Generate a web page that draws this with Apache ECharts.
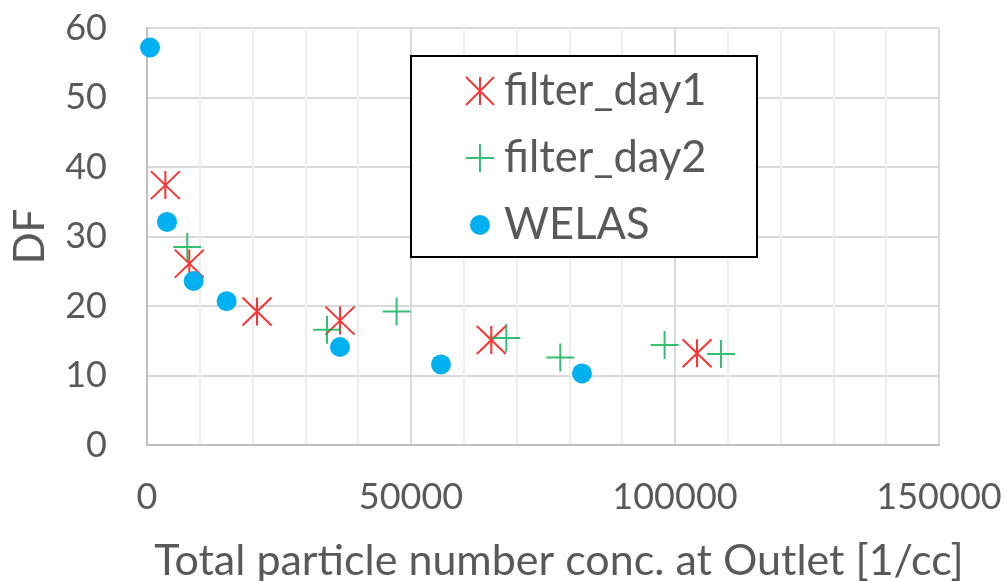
<!DOCTYPE html>
<html>
<head>
<meta charset="utf-8">
<script src="https://cdn.jsdelivr.net/npm/echarts@6/dist/echarts.min.js"></script>
<style>
  html, body { margin: 0; padding: 0; background: #fff; }
  #chart { width: 1006px; height: 581px; }
</style>
</head>
<body>
<div id="chart"></div>
<script>
// Outlet concentration [1/cc] vs decontamination factor
const day1X = [3470, 8010, 20830, 36550, 65210, 104170];
const day1Y = [37.4, 26.1, 19.2, 17.9, 15.1, 13.2];

const day2X = [7630, 34090, 47270, 68050, 78280, 98030, 108710];
const day2Y = [28.5, 16.6, 19.2, 15.4, 12.6, 14.4, 13.1];

const welasX = [570, 3790, 8830, 15080, 36550, 55680, 82380];
const welasY = [57.2, 32.1, 23.6, 20.7, 14.1, 11.6, 10.3];

const xTicks = [0, 50000, 100000, 150000];
const yTicks = [0, 10, 20, 30, 40, 50, 60];

const pairs = (xs, ys) => xs.map((x, i) => [x, ys[i]]);

const FONT = 'Lato';
const TEXT = '#595959';
const RED = '#FF0000';
const GREEN = '#00B050';
const BLUE = '#00B0F0';

const STAR = 'path://M0,0L28,28M28,0L0,28M14,0L14,28';
const PLUS = 'path://M0,14L28,14M14,0L14,28';
const DOT = 'path://M0,0M28,28M24,14A10,10,0,1,1,4,14A10,10,0,1,1,24,14Z';

const chart = echarts.init(document.getElementById('chart'));
chart.setOption({
  animation: false,
  backgroundColor: '#fff',
  textStyle: { fontFamily: FONT, color: TEXT },
  grid: { left: 147, right: 67, top: 28, bottom: 136, containLabel: false, outerBoundsMode: 'none' },
  xAxis: {
    type: 'value',
    min: xTicks[0],
    max: xTicks[xTicks.length - 1],
    interval: xTicks[1] - xTicks[0],
    name: 'Total particle number conc. at Outlet [1/cc]',
    nameLocation: 'middle',
    nameGap: 95,
    nameTextStyle: { fontFamily: FONT, fontSize: 43, color: TEXT, padding: [0, 0, 0, 32] },
    axisLine: { lineStyle: { color: '#BFBFBF', width: 2 } },
    axisTick: { show: false },
    axisLabel: { fontFamily: FONT, fontSize: 36, color: TEXT, margin: 34, formatter: v => String(v) },
    splitLine: { lineStyle: { color: '#D9D9D9', width: 2 } },
    minorTick: { show: false, splitNumber: 5 },
    minorSplitLine: { show: true, lineStyle: { color: '#EEEEEE', width: 2 } }
  },
  yAxis: {
    type: 'value',
    min: yTicks[0],
    max: yTicks[yTicks.length - 1],
    interval: yTicks[1] - yTicks[0],
    name: 'DF',
    nameLocation: 'middle',
    nameGap: 96,
    nameTextStyle: { fontFamily: FONT, fontSize: 42, color: TEXT },
    axisLine: { show: true, lineStyle: { color: '#BFBFBF', width: 2 } },
    axisTick: { show: false },
    axisLabel: { fontFamily: FONT, fontSize: 36, color: TEXT, margin: 40, formatter: v => String(v) },
    splitLine: { lineStyle: { color: '#D9D9D9', width: 2 } }
  },
  graphic: [{
    type: 'rect',
    z: 3,
    shape: { x: 411, y: 56, width: 346, height: 201 },
    style: { fill: '#fff', stroke: '#000', lineWidth: 2 }
  }],
  legend: {
    orient: 'vertical',
    left: 465,
    top: 69,
    padding: 0,
    itemWidth: 28,
    itemHeight: 28,
    itemGap: 23,
    z: 5,
    textStyle: { fontFamily: FONT, fontSize: 43.5, color: TEXT, padding: [0, 0, 0, 5] },
    data: [
      { name: 'filter_day1', icon: STAR, itemStyle: { color: RED, borderColor: RED, borderWidth: 2 } },
      { name: 'filter_day2', icon: PLUS, itemStyle: { color: GREEN, borderColor: GREEN, borderWidth: 2 } },
      { name: 'WELAS', icon: DOT, itemStyle: { color: BLUE, borderWidth: 0 } }
    ]
  },
  series: [
    {
      name: 'filter_day1',
      type: 'scatter',
      symbol: STAR,
      symbolSize: [29, 28],
      itemStyle: { color: RED, borderColor: RED, borderWidth: 2 },
      emphasis: { disabled: true },
      data: pairs(day1X, day1Y)
    },
    {
      name: 'filter_day2',
      type: 'scatter',
      symbol: PLUS,
      symbolSize: 28,
      itemStyle: { color: GREEN, borderColor: GREEN, borderWidth: 2 },
      emphasis: { disabled: true },
      data: pairs(day2X, day2Y)
    },
    {
      name: 'WELAS',
      type: 'scatter',
      symbol: 'circle',
      symbolSize: 20,
      itemStyle: { color: BLUE, opacity: 1 },
      emphasis: { disabled: true },
      data: pairs(welasX, welasY)
    }
  ]
});
</script>
</body>
</html>
